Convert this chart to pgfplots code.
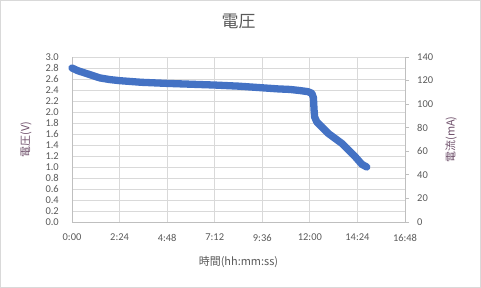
\documentclass[border=0pt]{standalone}
\usepackage{fontspec}
\setmainfont{Carlito}
\newfontfamily\cjk{Noto Sans CJK JP}
\usepackage{pgfplots}
\pgfplotsset{compat=1.18}
\definecolor{txt}{HTML}{595959}
\definecolor{grd}{HTML}{D9D9D9}
\definecolor{axg}{HTML}{BFBFBF}
\definecolor{ser}{HTML}{4472C4}
\definecolor{lab}{HTML}{6E4F6A}
\begin{document}
\begin{tikzpicture}
\begin{axis}[
  at={(0bp,0bp)}, anchor=origin, scale only axis, width=333bp, height=165bp,
  xmin=0, xmax=16.8, ymin=0, ymax=3,
  clip=false,
  xtick={0,2.4,4.8,7.2,9.6,12,14.4,16.8},
  xticklabels={0:00,2:24,4:48,7:12,9:36,12:00,14:24,16:48},
  ytick={0,0.2,0.4,0.6,0.8,1.0,1.2,1.4,1.6,1.8,2.0,2.2,2.4,2.6,2.8,3.0},
  /pgf/number format/assume math mode=true,
  yticklabel={\pgfmathprintnumber[fixed,fixed zerofill,precision=1]{\tick}},
  grid=major, grid style={grd, line width=0.75bp},
  major tick length=0,
  axis x line*=bottom, axis y line*=left,
  axis line style={axg,-, line width=0.75bp},
  ticklabel style={font=\fontsize{10.5}{11}\selectfont, text=txt, inner sep=0pt},
  yticklabel style={xshift=-13bp},
  xticklabel style={yshift=-12bp},
  title={\cjk 電圧},
  title style={font=\fontsize{17}{20}\selectfont, text=txt, at={(rel axis cs:0.5,1)}, anchor=center, yshift=30bp},
  xlabel={\cjk 時間(hh:mm:ss)},
  xlabel style={font=\fontsize{11}{13}\selectfont, text=txt, at={(rel axis cs:0.5,0)}, anchor=center, yshift=-40bp},
  ylabel={\cjk 電圧(V)},
  ylabel style={font=\fontsize{11}{13}\selectfont, text=lab, at={(rel axis cs:0,0.5)}, anchor=center, yshift=46bp},
]
\addplot[ser, line width=7.3bp, line cap=round, line join=round] coordinates {
(0,2.80) (0.3,2.75) (0.9,2.68) (1.4,2.62) (1.9,2.59) (2.4,2.57)
(3.5,2.54) (4.8,2.52) (6.0,2.505) (7.2,2.49) (8.4,2.47) (9.6,2.44)
(10.4,2.42) (11.0,2.41) (11.5,2.39) (11.9,2.37) (12.1,2.34)
(12.18,2.26) (12.21,2.05) (12.24,1.91) (12.35,1.82) (12.6,1.73)
(12.93,1.61) (13.61,1.43) (14.28,1.19) (14.62,1.05) (14.87,1.00)
};
\end{axis}
\begin{axis}[
  at={(0bp,0bp)}, anchor=origin, scale only axis, width=333bp, height=165bp,
  xmin=0, xmax=16.8, ymin=0, ymax=140,
  ytick={0,20,40,60,80,100,120,140},
  axis x line=none, axis y line*=right,
  axis line style={axg,-, line width=0.75bp},
  tick align=outside, major tick length=4bp,
  tick style={axg, line width=0.75bp},
  /pgf/number format/assume math mode=true,
  ticklabel style={font=\fontsize{10.5}{11}\selectfont, text=txt, inner sep=0pt},
  yticklabel style={xshift=8bp},
  ylabel={\cjk 電流(mA)},
  ylabel style={font=\fontsize{11}{13}\selectfont, text=lab, at={(rel axis cs:1,0.5)}, anchor=center, yshift=-46bp},
]
\addplot[draw=none] coordinates {(0,0)};
\end{axis}
\draw[grd, line width=1bp] (-71.5bp,-65.5bp) rectangle (408.5bp,221.5bp);
\pgfresetboundingbox
\useasboundingbox (-72bp,-66bp) rectangle (409bp,222bp);
\end{tikzpicture}
\end{document}
